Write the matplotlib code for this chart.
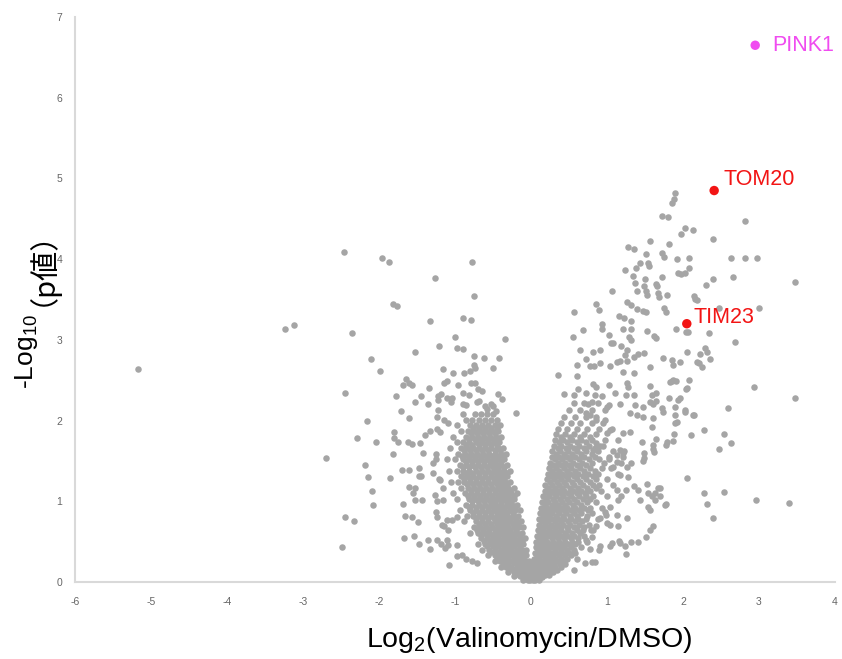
import matplotlib
matplotlib.use("Agg")
import matplotlib.pyplot as plt

plt.rcParams['mathtext.fontset'] = 'custom'
plt.rcParams['mathtext.rm'] = 'Liberation Sans'
plt.rcParams['mathtext.it'] = 'Liberation Sans'
plt.rcParams['axes.unicode_minus'] = False

# labelled proteins
hit_names = ['PINK1', 'TOM20', 'TIM23']
hit_x = [2.95, 2.41, 2.05]
hit_y = [6.65, 4.85, 3.20]
hit_colors = ['#f04cf0', '#f21414', '#f21414']

# dense core of the left arm, one row per -log10(p) level
left_core_y = [0.02, 0.07, 0.13, 0.19, 0.26, 0.33, 0.40, 0.47, 0.54, 0.61,
               0.68, 0.75, 0.82, 0.89, 0.96, 1.03, 1.10, 1.17, 1.24, 1.31,
               1.38, 1.45, 1.52, 1.59, 1.66, 1.73, 1.80, 1.87, 1.94, 2.01, 2.08]
left_core_x = [
    [-0.10, -0.04, 0.02],
    [-0.22, -0.15, -0.08, -0.02, 0.03],
    [-0.30, -0.23, -0.16, -0.09, -0.03, 0.02],
    [-0.40, -0.33, -0.26, -0.19, -0.12, -0.06, 0.00],
    [-0.48, -0.41, -0.34, -0.27, -0.20, -0.13, -0.07, -0.02],
    [-0.56, -0.48, -0.41, -0.34, -0.27, -0.20, -0.13, -0.06],
    [-0.64, -0.55, -0.47, -0.40, -0.33, -0.26, -0.19, -0.12, -0.06],
    [-0.70, -0.61, -0.53, -0.45, -0.38, -0.31, -0.24, -0.17, -0.10],
    [-0.66, -0.58, -0.50, -0.43, -0.36, -0.29, -0.22, -0.15, -0.08],
    [-0.80, -0.70, -0.62, -0.55, -0.47, -0.40, -0.33, -0.26, -0.19, -0.12],
    [-0.75, -0.67, -0.59, -0.51, -0.44, -0.37, -0.30, -0.23, -0.16, -0.10],
    [-0.88, -0.72, -0.64, -0.56, -0.48, -0.41, -0.34, -0.27, -0.20, -0.13],
    [-0.84, -0.76, -0.68, -0.60, -0.52, -0.45, -0.38, -0.31, -0.24, -0.17],
    [-0.93, -0.80, -0.72, -0.64, -0.56, -0.49, -0.42, -0.35, -0.28, -0.21, -0.14],
    [-0.86, -0.77, -0.69, -0.61, -0.53, -0.46, -0.39, -0.32, -0.25, -0.18],
    [-0.97, -0.82, -0.74, -0.66, -0.58, -0.50, -0.43, -0.36, -0.29, -0.22],
    [-1.02, -0.87, -0.79, -0.71, -0.63, -0.55, -0.47, -0.40, -0.33, -0.26, -0.19],
    [-0.92, -0.83, -0.75, -0.67, -0.59, -0.51, -0.44, -0.37, -0.30, -0.23],
    [-1.05, -0.96, -0.88, -0.80, -0.72, -0.64, -0.56, -0.48, -0.41, -0.34, -0.27],
    [-0.92, -0.84, -0.76, -0.68, -0.60, -0.52, -0.45, -0.38, -0.31],
    [-1.08, -0.98, -0.89, -0.81, -0.73, -0.65, -0.57, -0.49, -0.42, -0.35, -0.28],
    [-0.94, -0.86, -0.78, -0.70, -0.62, -0.54, -0.46, -0.39, -0.32],
    [-1.10, -1.00, -0.90, -0.82, -0.74, -0.66, -0.58, -0.50, -0.43, -0.36],
    [-0.96, -0.87, -0.79, -0.71, -0.63, -0.55, -0.47, -0.40, -0.33],
    [-1.06, -0.92, -0.84, -0.76, -0.68, -0.60, -0.52, -0.44, -0.37],
    [-0.98, -0.89, -0.81, -0.73, -0.65, -0.57, -0.49, -0.42],
    [-1.03, -0.86, -0.78, -0.70, -0.62, -0.54, -0.46, -0.39],
    [-0.92, -0.83, -0.75, -0.67, -0.59, -0.51, -0.44],
    [-0.97, -0.80, -0.72, -0.64, -0.56, -0.48, -0.41],
    [-0.85, -0.77, -0.69, -0.61, -0.53, -0.45],
    [-0.90, -0.74, -0.66, -0.58, -0.50],
]

# extra points between the left core rows, where the blob is solid
left_fill_y = [0.10, 0.16, 0.23, 0.30, 0.37, 0.44, 0.51, 0.58, 0.65, 0.72,
               0.79, 0.86, 0.93, 1.00, 1.07, 1.14, 1.21, 1.28, 1.35, 1.42,
               1.49, 1.56, 1.63, 1.70, 1.77, 1.84, 1.91]
left_fill_x = [
    [-0.19, -0.12, -0.05],
    [-0.27, -0.20, -0.13, -0.06],
    [-0.37, -0.30, -0.23, -0.16, -0.09, -0.04],
    [-0.45, -0.37, -0.30, -0.23, -0.16, -0.10],
    [-0.52, -0.44, -0.37, -0.30, -0.23, -0.16, -0.09],
    [-0.58, -0.50, -0.43, -0.36, -0.29, -0.22, -0.15],
    [-0.62, -0.54, -0.47, -0.40, -0.33, -0.26, -0.19, -0.12],
    [-0.66, -0.58, -0.51, -0.44, -0.37, -0.30, -0.23, -0.16],
    [-0.71, -0.63, -0.55, -0.48, -0.41, -0.34, -0.27, -0.20],
    [-0.68, -0.60, -0.52, -0.45, -0.38, -0.31, -0.24, -0.17],
    [-0.72, -0.64, -0.56, -0.49, -0.42, -0.35, -0.28, -0.21],
    [-0.76, -0.68, -0.60, -0.52, -0.45, -0.38, -0.31, -0.24],
    [-0.81, -0.73, -0.65, -0.57, -0.50, -0.43, -0.36, -0.29, -0.22],
    [-0.78, -0.70, -0.62, -0.54, -0.47, -0.40, -0.33, -0.26],
    [-0.83, -0.75, -0.67, -0.59, -0.51, -0.44, -0.37, -0.30, -0.23],
    [-0.79, -0.71, -0.63, -0.55, -0.48, -0.41, -0.34, -0.27],
    [-0.84, -0.76, -0.68, -0.60, -0.52, -0.45, -0.38, -0.31],
    [-0.88, -0.80, -0.72, -0.64, -0.56, -0.49, -0.42, -0.35],
    [-0.85, -0.77, -0.69, -0.61, -0.53, -0.46, -0.39, -0.32],
    [-0.90, -0.82, -0.74, -0.66, -0.58, -0.50, -0.43, -0.36],
    [-0.86, -0.78, -0.70, -0.62, -0.54, -0.47, -0.40],
    [-0.91, -0.83, -0.75, -0.67, -0.59, -0.51, -0.44, -0.37],
    [-0.88, -0.80, -0.72, -0.64, -0.56, -0.48, -0.41],
    [-0.85, -0.77, -0.69, -0.61, -0.53, -0.45],
    [-0.82, -0.74, -0.66, -0.58, -0.50, -0.43],
    [-0.79, -0.71, -0.63, -0.55, -0.47],
    [-0.76, -0.68, -0.60, -0.52, -0.45],
]

# dense core of the right arm
right_core_y = [0.03, 0.09, 0.15, 0.22, 0.29, 0.36, 0.43, 0.50, 0.57, 0.64,
                0.71, 0.78, 0.85, 0.92, 0.99, 1.06, 1.13, 1.20, 1.27, 1.34,
                1.41, 1.48, 1.55, 1.62, 1.69, 1.76, 1.83, 1.90, 1.97, 2.05,
                2.13, 2.22]
right_core_x = [
    [-0.01, 0.05, 0.11],
    [0.00, 0.06, 0.12, 0.18, 0.24],
    [0.02, 0.08, 0.14, 0.20, 0.27, 0.34],
    [0.03, 0.09, 0.16, 0.23, 0.30, 0.38, 0.45],
    [0.04, 0.11, 0.18, 0.25, 0.32, 0.40, 0.48, 0.60],
    [0.05, 0.12, 0.19, 0.26, 0.33, 0.41, 0.50, 0.58],
    [0.06, 0.13, 0.20, 0.27, 0.35, 0.43, 0.52, 0.66],
    [0.07, 0.14, 0.21, 0.29, 0.37, 0.45, 0.54, 0.62, 0.74],
    [0.08, 0.15, 0.23, 0.31, 0.39, 0.47, 0.57, 0.70],
    [0.09, 0.16, 0.24, 0.32, 0.40, 0.49, 0.60, 0.68, 0.82],
    [0.10, 0.18, 0.26, 0.34, 0.42, 0.51, 0.63, 0.76],
    [0.11, 0.19, 0.27, 0.35, 0.44, 0.53, 0.62, 0.72, 0.88],
    [0.12, 0.20, 0.28, 0.37, 0.46, 0.56, 0.66, 0.80],
    [0.13, 0.21, 0.30, 0.39, 0.48, 0.58, 0.70, 0.78, 0.93],
    [0.15, 0.23, 0.32, 0.41, 0.50, 0.61, 0.74, 0.86],
    [0.16, 0.24, 0.33, 0.42, 0.52, 0.63, 0.72, 0.82, 1.00],
    [0.18, 0.26, 0.35, 0.44, 0.55, 0.66, 0.78, 0.92],
    [0.19, 0.28, 0.37, 0.46, 0.57, 0.69, 0.81, 0.90, 1.08],
    [0.21, 0.30, 0.39, 0.49, 0.60, 0.72, 0.86, 1.00],
    [0.22, 0.31, 0.41, 0.51, 0.62, 0.75, 0.88, 1.14],
    [0.24, 0.33, 0.43, 0.53, 0.64, 0.77, 0.93, 1.05],
    [0.25, 0.35, 0.45, 0.55, 0.67, 0.80, 0.96, 1.18],
    [0.27, 0.37, 0.47, 0.58, 0.70, 0.84, 1.02],
    [0.28, 0.38, 0.49, 0.60, 0.73, 0.88, 1.08, 1.22],
    [0.30, 0.40, 0.51, 0.63, 0.76, 0.91],
    [0.31, 0.42, 0.54, 0.66, 0.80, 0.97, 1.14],
    [0.33, 0.45, 0.57, 0.70, 0.85],
    [0.36, 0.48, 0.60, 0.74, 0.90, 1.06],
    [0.40, 0.52, 0.65, 0.80, 0.95],
    [0.44, 0.58, 0.72, 0.86],
    [0.50, 0.64, 0.80, 0.98],
    [0.56, 0.70, 0.88],
]

# extra points between the right core rows
right_fill_y = [0.06, 0.12, 0.19, 0.26, 0.33, 0.40, 0.47, 0.54, 0.61, 0.68,
                0.75, 0.82, 0.89, 0.96, 1.03, 1.10, 1.17, 1.24, 1.31, 1.38,
                1.45, 1.52, 1.59, 1.66, 1.73, 1.80]
right_fill_x = [
    [0.03, 0.09, 0.15],
    [0.04, 0.10, 0.16, 0.22, 0.29],
    [0.05, 0.12, 0.18, 0.25, 0.32, 0.40],
    [0.07, 0.14, 0.21, 0.28, 0.36, 0.43],
    [0.08, 0.15, 0.22, 0.29, 0.37, 0.45, 0.53],
    [0.09, 0.16, 0.23, 0.31, 0.39, 0.47, 0.56],
    [0.10, 0.17, 0.25, 0.33, 0.41, 0.49, 0.58],
    [0.11, 0.19, 0.27, 0.35, 0.43, 0.52, 0.62],
    [0.12, 0.20, 0.28, 0.36, 0.45, 0.54, 0.64],
    [0.14, 0.22, 0.30, 0.38, 0.47, 0.57, 0.70],
    [0.15, 0.23, 0.31, 0.40, 0.49, 0.58, 0.67],
    [0.16, 0.24, 0.33, 0.42, 0.51, 0.61, 0.74],
    [0.17, 0.25, 0.34, 0.43, 0.53, 0.63, 0.75],
    [0.19, 0.27, 0.36, 0.45, 0.55, 0.66],
    [0.20, 0.29, 0.38, 0.47, 0.57, 0.68, 0.78],
    [0.22, 0.30, 0.39, 0.49, 0.60, 0.71],
    [0.23, 0.32, 0.41, 0.51, 0.62, 0.74, 0.86],
    [0.25, 0.34, 0.43, 0.54, 0.65, 0.78],
    [0.26, 0.36, 0.46, 0.56, 0.68, 0.81],
    [0.28, 0.37, 0.47, 0.58, 0.70, 0.84],
    [0.29, 0.39, 0.50, 0.61, 0.73],
    [0.31, 0.41, 0.51, 0.63, 0.76, 0.90],
    [0.33, 0.43, 0.54, 0.66, 0.80],
    [0.35, 0.46, 0.57, 0.70, 0.84],
    [0.37, 0.48, 0.60, 0.73],
    [0.39, 0.51, 0.64, 0.77],
]

# scattered points, left arm (log2 ratio, -log10 p)
left_pts = [
    (-5.17, 2.64), (-3.24, 3.14), (-3.12, 3.18), (-2.70, 1.54), (-2.46, 4.09),
    (-2.45, 2.34), (-2.36, 3.09), (-2.49, 0.43), (-2.45, 0.81), (-2.33, 0.76),
    (-2.29, 1.79), (-2.18, 1.45), (-2.15, 1.30), (-2.16, 2.00), (-2.11, 2.76),
    (-2.09, 1.13), (-2.08, 0.95), (-2.04, 1.73), (-1.99, 2.61), (-1.96, 4.01),
    (-1.87, 3.96), (-1.86, 1.29), (-1.81, 3.45), (-1.76, 3.42), (-1.81, 1.59),
    (-1.80, 1.86), (-1.80, 1.79), (-1.75, 1.73), (-1.77, 2.30), (-1.71, 2.12),
    (-1.70, 1.39), (-1.68, 0.97), (-1.67, 0.55), (-1.66, 0.82), (-1.64, 2.51),
    (-1.60, 2.47), (-1.68, 2.44), (-1.57, 2.44), (-1.62, 1.74), (-1.56, 1.71),
    (-1.61, 1.39), (-1.61, 1.18), (-1.60, 2.03), (-1.56, 0.80), (-1.54, 0.57),
    (-1.53, 2.85), (-1.53, 2.23), (-1.53, 1.16), (-1.55, 1.10), (-1.52, 1.01),
    (-1.49, 0.74), (-1.48, 0.47), (-1.48, 1.41), (-1.48, 1.31), (-1.46, 1.72),
    (-1.45, 2.31), (-1.45, 1.31), (-1.44, 1.02), (-1.42, 1.60), (-1.39, 1.82),
    (-1.36, 2.21), (-1.35, 0.52), (-1.34, 2.40), (-1.33, 3.23), (-1.33, 0.41),
    (-1.33, 1.87), (-1.29, 1.35), (-1.29, 1.47), (-1.26, 3.77), (-1.26, 1.08),
    (-1.25, 1.59), (-1.25, 1.52), (-1.24, 1.90), (-1.24, 2.04), (-1.24, 1.00),
    (-1.24, 0.81), (-1.24, 0.52), (-1.23, 2.13), (-1.22, 2.26), (-1.22, 2.30),
    (-1.21, 2.92), (-1.21, 1.27), (-1.20, 1.86), (-1.18, 2.33), (-1.18, 0.47),
    (-1.17, 0.71), (-1.16, 2.64), (-1.16, 1.17), (-1.16, 1.02), (-1.15, 2.47),
    (-1.14, 2.01), (-1.11, 2.49), (-1.11, 0.77), (-1.11, 0.52), (-1.10, 2.28),
    (-1.09, 1.97), (-1.09, 0.46), (-1.08, 0.21), (-1.05, 2.23), (-1.04, 2.28),
    (-1.04, 0.77), (-1.02, 2.59), (-1.00, 3.03), (-0.98, 0.80), (-0.98, 0.46),
    (-0.98, 0.32), (-0.97, 2.90), (-0.96, 2.44), (-0.91, 0.33), (-0.89, 2.89),
    (-0.89, 3.27), (-0.89, 2.34), (-0.88, 2.59), (-0.90, 2.21), (-0.85, 2.19),
    (-0.85, 0.29), (-0.82, 2.32), (-0.80, 2.61), (-0.79, 3.25), (-0.79, 2.46),
    (-0.78, 0.26), (-0.77, 3.96), (-0.75, 3.54), (-0.75, 2.80), (-0.75, 2.69),
    (-0.74, 2.65), (-0.74, 2.47), (-0.71, 2.23), (-0.71, 0.23), (-0.70, 2.39),
    (-0.68, 2.24), (-0.64, 2.37), (-0.62, 2.77), (-0.61, 2.18), (-0.52, 2.21),
    (-0.50, 2.65), (-0.50, 2.18), (-0.43, 2.33), (-0.42, 2.77), (-0.38, 2.27),
    (-0.34, 3.01), (-0.20, 2.09), (-0.58, 2.14), (-0.46, 2.12), (-1.13, 0.42),
    (-1.20, 1.26), (-1.25, 0.87), (-1.15, 0.69), (-1.09, 0.64),
]

# scattered points, right arm
right_pts = [
    (1.89, 4.82), (1.88, 4.75), (1.86, 4.69), (1.73, 4.54), (1.80, 4.52),
    (2.82, 4.47), (2.03, 4.39), (2.13, 4.36), (1.97, 4.31), (2.39, 4.25),
    (1.56, 4.23), (1.28, 4.15), (1.36, 4.12), (1.82, 4.19), (1.73, 4.08),
    (1.75, 4.03), (1.51, 4.06), (1.92, 4.00), (2.08, 4.01), (2.63, 4.01),
    (2.82, 4.02), (2.97, 4.01), (1.24, 3.87), (1.38, 3.89), (1.43, 3.95),
    (1.54, 3.95), (1.55, 3.91), (1.72, 3.78), (1.93, 3.83), (2.03, 3.83),
    (2.08, 3.89), (1.98, 3.81), (2.39, 3.75), (2.66, 3.78), (1.34, 3.79),
    (1.37, 3.71), (1.50, 3.76), (1.49, 3.67), (1.64, 3.69), (1.66, 3.67),
    (2.30, 3.68), (3.47, 3.72), (1.07, 3.61), (1.40, 3.61), (1.51, 3.61),
    (1.53, 3.55), (1.67, 3.58), (1.68, 3.53), (1.79, 3.55), (2.14, 3.54),
    (2.16, 3.51), (2.19, 3.49), (1.26, 3.47), (1.32, 3.43), (0.86, 3.44),
    (0.90, 3.37), (1.39, 3.38), (1.47, 3.36), (1.51, 3.34), (1.75, 3.40),
    (1.78, 3.34), (2.48, 3.40), (3.00, 3.40), (0.57, 3.34), (1.16, 3.30),
    (1.23, 3.27), (1.32, 3.23), (0.94, 3.20), (0.93, 3.14), (1.02, 3.06),
    (1.08, 2.96), (1.05, 2.96), (1.21, 3.14), (1.31, 3.14), (0.69, 3.12),
    (0.55, 3.03), (1.53, 3.11), (1.62, 3.05), (1.65, 3.02), (1.91, 3.13),
    (2.04, 3.10), (2.07, 3.10), (2.34, 3.08), (2.69, 2.97), (1.29, 3.04),
    (1.32, 3.00), (1.19, 2.92), (1.26, 2.87), (0.65, 2.87), (0.81, 2.85),
    (0.91, 2.88), (0.73, 2.76), (0.60, 2.69), (0.77, 2.67), (0.83, 2.67),
    (0.91, 2.71), (1.04, 2.67), (1.13, 2.72), (1.17, 2.74), (1.26, 2.74),
    (1.24, 2.81), (1.35, 2.79), (1.41, 2.83), (1.49, 2.84), (1.57, 2.66),
    (1.74, 2.78), (1.86, 2.75), (1.87, 2.69), (1.96, 2.72), (2.05, 2.85),
    (2.22, 2.83), (2.29, 2.90), (2.35, 2.76), (2.19, 2.73), (2.21, 2.71),
    (2.25, 2.66), (2.32, 2.85), (0.35, 2.57), (0.61, 2.55), (1.21, 2.60),
    (1.36, 2.59), (1.85, 2.49), (1.91, 2.49), (2.08, 2.50), (2.04, 2.39),
    (1.96, 2.28), (2.93, 2.41), (3.47, 2.28), (0.44, 2.33), (0.56, 2.32),
    (0.62, 2.39), (0.72, 2.34), (0.82, 2.45), (0.86, 2.42), (0.84, 2.32),
    (0.94, 2.30), (1.03, 2.44), (1.10, 2.34), (1.26, 2.47), (1.28, 2.42),
    (1.25, 2.32), (1.36, 2.32), (1.56, 2.43), (1.59, 2.32), (1.57, 2.23),
    (1.65, 2.34), (1.64, 2.24), (1.61, 2.21), (1.82, 2.28), (1.94, 2.26),
    (2.05, 2.40), (1.83, 2.48), (1.87, 2.50), (0.80, 2.23), (1.02, 2.19),
    (1.17, 2.21), (1.37, 2.19), (1.47, 2.17), (1.72, 2.15), (1.89, 2.17),
    (2.02, 2.13), (2.59, 2.15), (2.13, 2.07), (1.30, 2.09), (1.39, 2.07),
    (1.48, 2.05), (1.61, 2.03), (1.74, 2.11), (1.89, 2.07), (2.03, 2.11),
    (2.14, 2.07), (1.59, 1.92), (1.89, 1.97), (1.92, 1.98), (1.21, 1.84),
    (1.30, 1.86), (2.11, 1.82), (2.27, 1.88), (2.54, 1.83), (2.63, 1.72),
    (2.48, 1.65), (1.46, 1.74), (1.61, 1.70), (1.65, 1.77), (1.79, 1.73),
    (1.87, 1.75), (1.77, 1.70), (1.88, 1.83), (1.49, 1.60), (1.62, 1.61),
    (1.47, 1.50), (1.00, 1.84), (1.04, 1.88), (0.97, 2.01), (0.95, 1.68),
    (0.86, 1.72), (0.82, 1.64), (0.86, 2.01), (0.78, 2.07), (0.73, 2.09),
    (1.00, 2.17), (0.75, 2.21), (1.17, 1.64), (1.13, 1.57), (1.21, 1.55),
    (1.13, 1.49), (1.02, 1.53), (1.28, 1.30), (1.17, 1.33), (1.26, 1.43),
    (1.08, 1.43), (1.49, 1.54), (1.60, 1.65), (1.21, 1.60), (1.31, 1.47),
    (2.05, 1.29), (1.52, 1.22), (1.35, 1.19), (1.25, 1.14), (1.70, 1.16),
    (1.63, 1.10), (1.59, 1.07), (1.43, 1.02), (1.54, 0.93), (1.76, 0.95),
    (1.61, 0.69), (1.57, 0.64), (1.51, 0.56), (1.41, 0.49), (1.32, 0.49),
    (1.24, 0.45), (1.25, 0.35), (1.17, 0.48), (1.04, 0.44), (1.07, 0.48),
    (0.91, 0.44), (0.89, 0.40), (0.78, 0.41), (0.80, 0.25), (0.84, 0.25),
    (0.71, 0.23), (0.56, 0.15), (1.00, 0.73), (1.04, 0.71), (1.13, 0.83),
    (1.26, 0.79), (1.15, 0.69), (0.99, 0.83), (0.91, 0.79), (0.86, 0.69),
    (0.80, 0.56), (0.73, 0.52), (0.79, 0.64), (1.41, 1.14), (1.54, 1.10),
    (1.70, 1.06), (1.63, 1.02), (1.13, 1.14), (1.15, 1.02), (1.19, 1.06),
    (1.04, 0.93), (0.97, 0.87), (1.16, 0.51), (2.27, 1.10), (2.32, 0.97),
    (2.39, 0.79), (2.54, 1.12), (2.96, 1.02), (3.39, 0.98), (1.56, 0.89),
    (1.77, 0.97), (1.67, 1.16),
]

x_ticks = [-6, -5, -4, -3, -2, -1, 0, 1, 2, 3, 4]
y_ticks = [0, 1, 2, 3, 4, 5, 6, 7]

gray = '#a5a5a5'
tick_color = '#666666'


def flatten(rows_y, rows_x):
    px, py = [], []
    for y, row in zip(rows_y, rows_x):
        px += row
        py += [y] * len(row)
    return px, py


xs, ys = [], []
for ry, rx in [(left_core_y, left_core_x), (left_fill_y, left_fill_x),
               (right_core_y, right_core_x), (right_fill_y, right_fill_x)]:
    a, b = flatten(ry, rx)
    xs += a
    ys += b
xs += [p[0] for p in left_pts + right_pts]
ys += [p[1] for p in left_pts + right_pts]

fig = plt.figure(figsize=(8.42, 6.59), dpi=100)
ax = fig.add_axes([75 / 842, 1 - 582 / 659, 760 / 842, 565 / 659])

ax.scatter(xs, ys, s=22, color=gray, linewidths=0, zorder=3, clip_on=False)
ax.scatter(hit_x, hit_y, s=46, color=hit_colors, linewidths=0, zorder=4, clip_on=False)

offsets = [(12, 0), (6.5, 8), (4.5, 4.5)]
for name, x, y, c, off in zip(hit_names, hit_x, hit_y, hit_colors, offsets):
    ax.annotate(name, (x, y), xytext=off, textcoords='offset points',
                color=c, fontsize=15.5, family='Liberation Sans',
                ha='left', va='center')

ax.set_xlim(-6, 4)
ax.set_ylim(0, 7)
ax.set_xticks(x_ticks)
ax.set_yticks(y_ticks)
ax.tick_params(length=0, labelsize=7.5, colors=tick_color)
ax.tick_params(axis='x', pad=11)
ax.tick_params(axis='y', pad=9)
for lab in ax.get_xticklabels() + ax.get_yticklabels():
    lab.set_family('Liberation Sans')
for side in ['top', 'right']:
    ax.spines[side].set_visible(False)
for side in ['left', 'bottom']:
    ax.spines[side].set_color('#d9d9d9')
    ax.spines[side].set_linewidth(1.5)

fig.text(529 / 842, 1 - 647 / 659, r'Log$_{2}$(Valinomycin/DMSO)',
         fontsize=20.5, family='Liberation Sans', ha='center', va='baseline')

ylab = fig.text(27 / 842, 1 - 352 / 659, r'-Log$_{10}$', rotation=90,
                fontsize=19, family='Liberation Sans', ha='center', va='center')
ax.annotate('（p値）', xy=(0.5, 1.0), xycoords=ylab, xytext=(0, 6),
            textcoords='offset points', rotation=90,
            fontsize=21, family=['Noto Sans CJK JP', 'DejaVu Sans'],
            ha='center', va='bottom', annotation_clip=False)

fig.savefig('out.png', dpi=100)
